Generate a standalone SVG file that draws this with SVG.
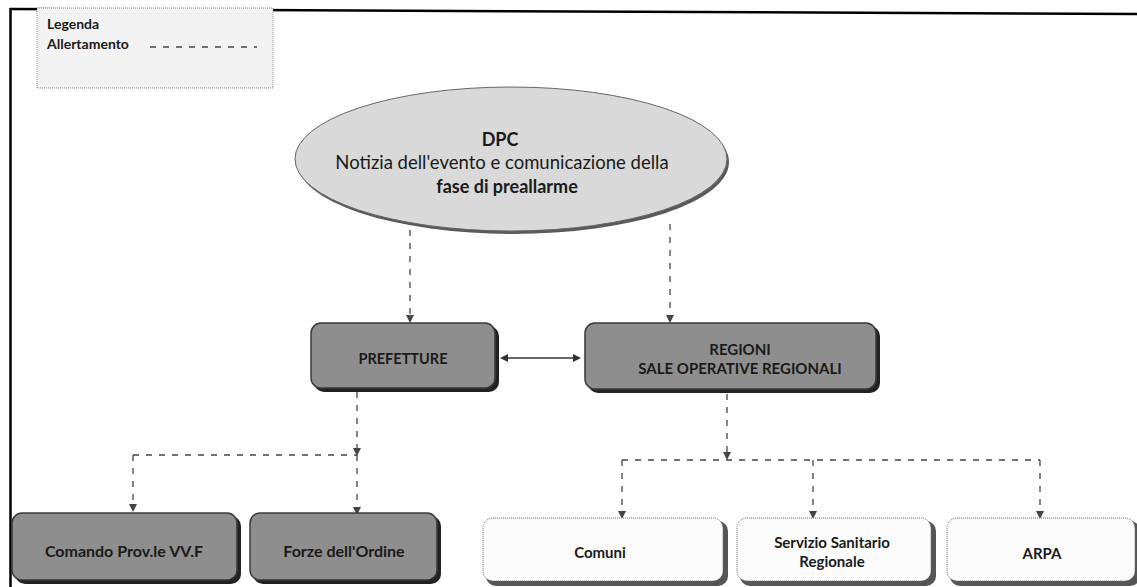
<svg xmlns="http://www.w3.org/2000/svg" width="1137" height="587" viewBox="0 0 1137 587">
<style>
text{font-family:Lato,"Open Sans","Liberation Sans",sans-serif;fill:#1a1a1a;text-anchor:middle}
.b{font-weight:bold}
.dark{fill:#8e8e8e;stroke:#3a3a3a;stroke-width:1.5}
.light{fill:#fbfbfb;stroke:#666;stroke-width:1;stroke-dasharray:1 1}
.sh{fill:#222}
.shl{fill:#555}
.dash{fill:none;stroke:#444;stroke-width:1.3;stroke-dasharray:6 7}
.solid{fill:none;stroke:#333;stroke-width:1.6}
</style>
<defs>
<marker id="ah" markerWidth="8" markerHeight="8" refX="4" refY="4" orient="auto" markerUnits="userSpaceOnUse">
<path d="M0,0 L8,4 L0,8 z" fill="#444"/>
</marker>
<marker id="ahs" markerWidth="8" markerHeight="8" refX="6" refY="4" orient="auto-start-reverse" markerUnits="userSpaceOnUse">
<path d="M0,0 L8,4 L0,8 z" fill="#333"/>
</marker>
</defs>
<rect width="1137" height="587" fill="#fff"/>
<g id="frame">
<line x1="10" y1="9" x2="1137" y2="14" stroke="#000" stroke-width="2.5"/>
<line x1="10.5" y1="8" x2="10.5" y2="587" stroke="#000" stroke-width="2.5"/>
</g>
<g id="legend">
<rect x="37" y="8" width="236" height="80" fill="#f3f3f3" stroke="#888" stroke-width="1" stroke-dasharray="1 1"/>
<text x="47" y="29" class="b" font-size="14" style="text-anchor:start">Legenda</text>
<text x="47" y="49" class="b" font-size="14" style="text-anchor:start">Allertamento</text>
<line x1="150" y1="47" x2="257" y2="47" class="dash" stroke-dasharray="8 6"/>
</g>
<g id="connectors">
<line x1="410" y1="230" x2="410" y2="319" class="dash" marker-end="url(#ah)"/>
<line x1="670" y1="224" x2="670" y2="319" class="dash" marker-end="url(#ah)"/>
<line x1="502" y1="358" x2="579" y2="358" class="solid" marker-start="url(#ahs)" marker-end="url(#ahs)"/>
<line x1="357" y1="392" x2="357" y2="452" class="dash" marker-end="url(#ah)"/>
<polyline points="133,455 357,455" class="dash"/>
<line x1="133" y1="455" x2="133" y2="508" class="dash" marker-end="url(#ah)"/>
<line x1="357" y1="455" x2="357" y2="511" class="dash" marker-end="url(#ah)"/>
<line x1="727" y1="394" x2="727" y2="456" class="dash" marker-end="url(#ah)"/>
<polyline points="622,460 1040,460" class="dash"/>
<line x1="622" y1="460" x2="622" y2="515" class="dash" marker-end="url(#ah)"/>
<line x1="813" y1="460" x2="813" y2="515" class="dash" marker-end="url(#ah)"/>
<line x1="1040" y1="460" x2="1040" y2="515" class="dash" marker-end="url(#ah)"/>
</g>
<g id="dpc">
<ellipse cx="513" cy="162" rx="216" ry="72" fill="#5a5a5a"/>
<ellipse cx="511" cy="159" rx="216" ry="72" fill="#d9d9d9" stroke="#666" stroke-width="1"/>
<text x="500" y="146" class="b" font-size="18">DPC</text>
<text x="502" y="169" font-size="18.5">Notizia dell'evento e comunicazione della</text>
<text x="507" y="193" class="b" font-size="18">fase di preallarme</text>
</g>
<g id="prefetture">
<rect x="314" y="326" width="185" height="66" rx="10" class="sh"/>
<rect x="311" y="323" width="184" height="65" rx="10" class="dark"/>
<text x="403" y="364" class="b" font-size="14.5">PREFETTURE</text>
</g>
<g id="regioni">
<rect x="588" y="326" width="292" height="67" rx="10" class="sh"/>
<rect x="585" y="323" width="291" height="66" rx="10" class="dark"/>
<text x="740" y="355" class="b" font-size="15">REGIONI</text>
<text x="740" y="374" class="b" font-size="15">SALE OPERATIVE REGIONALI</text>
</g>
<g id="comando">
<rect x="15" y="516" width="226" height="68" rx="10" class="sh"/>
<rect x="12" y="513" width="225" height="67" rx="10" class="dark"/>
<text x="124" y="557" class="b" font-size="16">Comando Prov.le VV.F</text>
</g>
<g id="forze">
<rect x="253" y="516" width="188" height="68" rx="10" class="sh"/>
<rect x="250" y="513" width="187" height="67" rx="10" class="dark"/>
<text x="344" y="557" class="b" font-size="16">Forze dell'Ordine</text>
</g>
<g id="comuni">
<rect x="486" y="521" width="242" height="65" rx="10" class="shl"/>
<rect x="483" y="518" width="240" height="63" rx="10" class="light"/>
<text x="600" y="558" class="b" font-size="15">Comuni</text>
</g>
<g id="servizio">
<rect x="740" y="521" width="196" height="65" rx="10" class="shl"/>
<rect x="737" y="518" width="194" height="63" rx="10" class="light"/>
<text x="832" y="548" class="b" font-size="15">Servizio Sanitario</text>
<text x="832" y="567" class="b" font-size="15">Regionale</text>
</g>
<g id="arpa">
<rect x="950" y="521" width="190" height="65" rx="10" class="shl"/>
<rect x="947" y="518" width="188" height="63" rx="10" class="light"/>
<text x="1042" y="559" class="b" font-size="15">ARPA</text>
</g>
</svg>
